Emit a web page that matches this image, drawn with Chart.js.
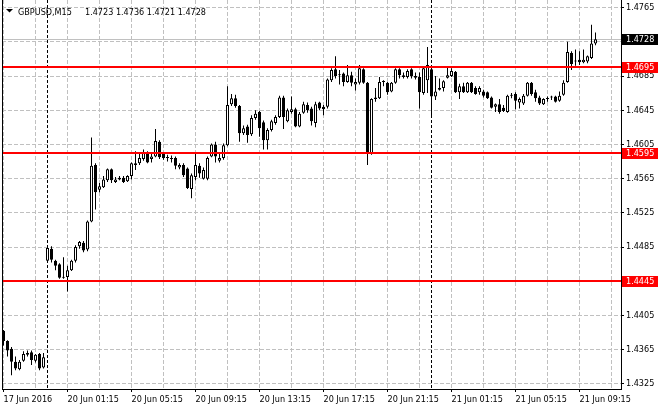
<!DOCTYPE html>
<html>
<head>
<meta charset="utf-8">
<script src="https://cdn.jsdelivr.net/npm/chart.js@4.4.1/dist/chart.umd.min.js"></script>
<style>
  html, body { margin: 0; padding: 0; background: #fff; }
</style>
</head>
<body>
<canvas id="chart" width="660" height="410"></canvas>
<script>
// GBPUSD M15 candles, one entry per bar (bar 0 = 17 Jun 21:15, last = 21 Jun 10:15)
const SYMBOL = "GBPUSD,M15";

const OPEN = [
  1.4387, 1.4375, 1.4366, 1.4351, 1.4342, 1.4352, 1.4359, 1.4362, 1.4352, 1.4360,
  1.4344, 1.4469, 1.4483, 1.4469, 1.4465, 1.4450, 1.4450, 1.4458, 1.4469, 1.4486,
  1.4490, 1.4482, 1.4515, 1.4581, 1.4552, 1.4555, 1.4563, 1.4576, 1.4561, 1.4566,
  1.4566, 1.4562, 1.4568, 1.4583, 1.4583, 1.4588, 1.4595, 1.4588, 1.4591, 1.4608,
  1.4594, 1.4590, 1.4589, 1.4589, 1.4578, 1.4581, 1.4577, 1.4553, 1.4567, 1.4580,
  1.4565, 1.4565, 1.4591, 1.4605, 1.4586, 1.4589, 1.4604, 1.4652, 1.4659, 1.4650,
  1.4618, 1.4626, 1.4617, 1.4636, 1.4643, 1.4631, 1.4610, 1.4622, 1.4630, 1.4637,
  1.4660, 1.4632, 1.4643, 1.4646, 1.4626, 1.4642, 1.4651, 1.4647, 1.4630, 1.4654,
  1.4649, 1.4649, 1.4680, 1.4693, 1.4687, 1.4688, 1.4678, 1.4686, 1.4675, 1.4677,
  1.4693, 1.4677, 1.4595, 1.4658, 1.4659, 1.4678, 1.4677, 1.4667, 1.4677, 1.4693,
  1.4686, 1.4684, 1.4693, 1.4685, 1.4684, 1.4665, 1.4680, 1.4693, 1.4661, 1.4671,
  1.4671, 1.4683, 1.4685, 1.4690, 1.4666, 1.4673, 1.4666, 1.4677, 1.4671, 1.4666,
  1.4667, 1.4666, 1.4660, 1.4649, 1.4652, 1.4648, 1.4643, 1.4663, 1.4664, 1.4654,
  1.4653, 1.4662, 1.4677, 1.4666, 1.4660, 1.4652, 1.4658, 1.4660, 1.4661, 1.4656,
  1.4663, 1.4678, 1.4712, 1.4703, 1.4704, 1.4701, 1.4702, 1.4706, 1.4723
];
const HIGH = [
  1.4388, 1.4376, 1.4368, 1.4357, 1.4353, 1.4363, 1.4364, 1.4364, 1.4360, 1.4361,
  1.4361, 1.4485, 1.4486, 1.4470, 1.4466, 1.4473, 1.4463, 1.4470, 1.4487, 1.4492,
  1.4492, 1.4516, 1.4613, 1.4583, 1.4560, 1.4568, 1.4577, 1.4577, 1.4567, 1.4568,
  1.4568, 1.4569, 1.4584, 1.4597, 1.4596, 1.4599, 1.4597, 1.4594, 1.4623, 1.4610,
  1.4596, 1.4593, 1.4592, 1.4591, 1.4583, 1.4583, 1.4578, 1.4571, 1.4594, 1.4583,
  1.4578, 1.4591, 1.4606, 1.4608, 1.4596, 1.4606, 1.4673, 1.4664, 1.4663, 1.4651,
  1.4627, 1.4628, 1.4639, 1.4645, 1.4644, 1.4633, 1.4624, 1.4634, 1.4639, 1.4662,
  1.4662, 1.4647, 1.4661, 1.4648, 1.4643, 1.4655, 1.4654, 1.4649, 1.4655, 1.4655,
  1.4651, 1.4682, 1.4694, 1.4708, 1.4692, 1.4689, 1.4698, 1.4690, 1.4682, 1.4698,
  1.4694, 1.4678, 1.4659, 1.4671, 1.4684, 1.4680, 1.4678, 1.4678, 1.4694, 1.4694,
  1.4689, 1.4693, 1.4694, 1.4689, 1.4689, 1.4696, 1.4719, 1.4697, 1.4685, 1.4682,
  1.4680, 1.4695, 1.4694, 1.4691, 1.4676, 1.4677, 1.4678, 1.4678, 1.4673, 1.4673,
  1.4669, 1.4667, 1.4661, 1.4653, 1.4658, 1.4651, 1.4663, 1.4665, 1.4666, 1.4660,
  1.4664, 1.4678, 1.4678, 1.4669, 1.4662, 1.4659, 1.4661, 1.4662, 1.4662, 1.4667,
  1.4680, 1.4725, 1.4714, 1.4716, 1.4714, 1.4716, 1.4709, 1.4745, 1.4736
];
const LOW = [
  1.4370, 1.4357, 1.4335, 1.4341, 1.4341, 1.4351, 1.4357, 1.4347, 1.4350, 1.4341,
  1.4343, 1.4468, 1.4467, 1.4458, 1.4448, 1.4448, 1.4433, 1.4457, 1.4467, 1.4483,
  1.4479, 1.4480, 1.4514, 1.4529, 1.4549, 1.4554, 1.4561, 1.4560, 1.4560, 1.4563,
  1.4560, 1.4561, 1.4564, 1.4575, 1.4581, 1.4586, 1.4583, 1.4584, 1.4590, 1.4588,
  1.4587, 1.4585, 1.4584, 1.4576, 1.4576, 1.4567, 1.4553, 1.4542, 1.4563, 1.4566,
  1.4564, 1.4563, 1.4590, 1.4584, 1.4584, 1.4587, 1.4603, 1.4650, 1.4648, 1.4608,
  1.4616, 1.4607, 1.4615, 1.4634, 1.4614, 1.4599, 1.4599, 1.4620, 1.4628, 1.4636,
  1.4623, 1.4631, 1.4641, 1.4625, 1.4625, 1.4641, 1.4642, 1.4627, 1.4625, 1.4645,
  1.4639, 1.4647, 1.4678, 1.4682, 1.4675, 1.4673, 1.4677, 1.4673, 1.4668, 1.4675,
  1.4676, 1.4581, 1.4593, 1.4655, 1.4658, 1.4673, 1.4663, 1.4666, 1.4676, 1.4682,
  1.4682, 1.4682, 1.4682, 1.4681, 1.4647, 1.4663, 1.4665, 1.4636, 1.4657, 1.4668,
  1.4667, 1.4682, 1.4684, 1.4665, 1.4658, 1.4665, 1.4665, 1.4665, 1.4663, 1.4663,
  1.4660, 1.4658, 1.4647, 1.4643, 1.4641, 1.4643, 1.4642, 1.4659, 1.4646, 1.4647,
  1.4651, 1.4661, 1.4662, 1.4655, 1.4651, 1.4651, 1.4655, 1.4657, 1.4654, 1.4655,
  1.4662, 1.4677, 1.4692, 1.4697, 1.4698, 1.4700, 1.4700, 1.4705, 1.4721
];
const CLOSE = [
  1.4375, 1.4364, 1.4351, 1.4343, 1.4351, 1.4360, 1.4361, 1.4353, 1.4359, 1.4343,
  1.4356, 1.4484, 1.4470, 1.4463, 1.4449, 1.4449, 1.4458, 1.4469, 1.4485, 1.4491,
  1.4481, 1.4515, 1.4580, 1.4549, 1.4556, 1.4564, 1.4576, 1.4563, 1.4564, 1.4564,
  1.4561, 1.4568, 1.4583, 1.4581, 1.4589, 1.4596, 1.4584, 1.4591, 1.4609, 1.4590,
  1.4589, 1.4589, 1.4588, 1.4580, 1.4581, 1.4569, 1.4554, 1.4569, 1.4581, 1.4571,
  1.4575, 1.4589, 1.4605, 1.4591, 1.4589, 1.4604, 1.4651, 1.4659, 1.4650, 1.4618,
  1.4624, 1.4616, 1.4636, 1.4641, 1.4624, 1.4610, 1.4622, 1.4632, 1.4637, 1.4660,
  1.4637, 1.4645, 1.4646, 1.4626, 1.4641, 1.4652, 1.4645, 1.4632, 1.4652, 1.4647,
  1.4646, 1.4681, 1.4692, 1.4685, 1.4686, 1.4678, 1.4686, 1.4677, 1.4678, 1.4694,
  1.4677, 1.4594, 1.4658, 1.4660, 1.4678, 1.4679, 1.4666, 1.4677, 1.4693, 1.4686,
  1.4684, 1.4691, 1.4685, 1.4683, 1.4666, 1.4694, 1.4698, 1.4661, 1.4667, 1.4669,
  1.4679, 1.4686, 1.4691, 1.4666, 1.4673, 1.4666, 1.4677, 1.4666, 1.4664, 1.4671,
  1.4662, 1.4659, 1.4648, 1.4652, 1.4643, 1.4644, 1.4662, 1.4662, 1.4656, 1.4658,
  1.4662, 1.4677, 1.4664, 1.4659, 1.4653, 1.4658, 1.4659, 1.4661, 1.4655, 1.4662,
  1.4677, 1.4713, 1.4699, 1.4702, 1.4701, 1.4704, 1.4708, 1.4723, 1.4728
];

// axis labels
const Y_TICKS = [1.4325, 1.4365, 1.4405, 1.4445, 1.4485, 1.4525,
                 1.4565, 1.4605, 1.4645, 1.4685, 1.4725, 1.4765];
const X_TICK_BARS = [0, 16, 32, 48, 64, 80, 96, 112, 128, 144];
const X_TICK_TEXT = ["17 Jun 2016", "20 Jun 01:15", "20 Jun 05:15", "20 Jun 09:15",
                     "20 Jun 13:15", "20 Jun 17:15", "20 Jun 21:15", "21 Jun 01:15",
                     "21 Jun 05:15", "21 Jun 09:15"];

// horizontal levels and day separators
const LEVELS = [1.4695, 1.4595, 1.4445];
const DAY_BREAKS = [11, 107];
const BID = CLOSE[CLOSE.length - 1];

const FAMILY = '"DejaVu Sans Condensed", "Liberation Sans", sans-serif';
const FONT = "9px " + FAMILY;

const bodies = OPEN.map((o, i) => ({ x: i, y: [o, CLOSE[i]] }));
const wicks = LOW.map((l, i) => ({ x: i, y: [l, HIGH[i]] }));
const bull = OPEN.map((o, i) => CLOSE[i] >= o);

const priceTag = (ctx, y, value, bg) => {
  const py = Math.round(y.getPixelForValue(value));
  ctx.fillStyle = bg;
  ctx.fillRect(622, py - 5, 36, 11);
  ctx.fillStyle = "#fff";
  ctx.textBaseline = "middle";
  ctx.textAlign = "left";
  ctx.fillText(value.toFixed(4), 626, py + 0.5);
};

const mtDecor = {
  id: "mtDecor",
  beforeDatasetsDraw(chart) {
    const { ctx, chartArea: a, scales: { x, y } } = chart;
    ctx.save();
    ctx.lineWidth = 1;
    ctx.strokeStyle = "#000";
    ctx.setLineDash([3, 2]);
    DAY_BREAKS.forEach((b) => {
      const px = Math.floor(x.getPixelForValue(b)) + 0.5;
      ctx.beginPath();
      ctx.moveTo(px, a.top);
      ctx.lineTo(px, a.bottom);
      ctx.stroke();
    });
    ctx.setLineDash([]);
    ctx.strokeStyle = "#c0c0c0";
    const by = Math.round(y.getPixelForValue(BID)) + 0.5;
    ctx.beginPath();
    ctx.moveTo(a.left, by);
    ctx.lineTo(a.right, by);
    ctx.stroke();
    ctx.restore();
  },
  afterDatasetsDraw(chart) {
    const { ctx, chartArea: a, scales: { y } } = chart;
    ctx.save();
    ctx.fillStyle = "#ff0000";
    LEVELS.forEach((lv) => {
      const py = Math.round(y.getPixelForValue(lv));
      ctx.fillRect(a.left, py - 1, a.right - a.left, 2);
    });
    // left frame line
    ctx.fillStyle = "#000";
    ctx.fillRect(a.left, a.top, 1, a.bottom - a.top);
    ctx.restore();
  },
  afterDraw(chart) {
    const { ctx, scales: { y } } = chart;
    ctx.save();
    ctx.font = FONT;
    // title
    ctx.fillStyle = "#000";
    ctx.beginPath();
    ctx.moveTo(6, 9);
    ctx.lineTo(13, 9);
    ctx.lineTo(9.5, 12.5);
    ctx.closePath();
    ctx.fill();
    ctx.textBaseline = "alphabetic";
    ctx.fillText(SYMBOL, 18, 14.5);
    const n = CLOSE.length - 1;
    const ohlc = [OPEN[n], HIGH[n], LOW[n], CLOSE[n]].map((v) => v.toFixed(4)).join(" ");
    ctx.fillText(ohlc, 85, 14.5);
    // price tags on the axis
    LEVELS.forEach((lv) => priceTag(ctx, y, lv, "#ff0000"));
    priceTag(ctx, y, BID, "#000");
    ctx.restore();
  },
};

const chart = new Chart(document.getElementById("chart").getContext("2d"), {
  type: "bar",
  data: {
    datasets: [
      {
        data: bodies,
        barThickness: 3,
        minBarLength: 1,
        borderWidth: 1,
        borderSkipped: false,
        inflateAmount: 0,
        borderColor: "#000",
        backgroundColor: bull.map((b) => (b ? "#fff" : "#000")),
        grouped: false,
      },
      {
        data: wicks,
        barThickness: 1,
        borderWidth: 0,
        inflateAmount: 0,
        backgroundColor: "#000",
        grouped: false,
      },
    ],
  },
  options: {
    responsive: false,
    animation: false,
    devicePixelRatio: 1,
    layout: { padding: { left: 2, top: 0, right: 0, bottom: 0 } },
    plugins: {
      legend: { display: false },
      tooltip: { enabled: false },
    },
    scales: {
      x: {
        type: "linear",
        min: -0.375,
        max: 154.375,
        bounds: "data",
        offset: false,
        grid: {
          offset: false,
          color: "#c0c0c0",
          tickLength: 3,
          tickColor: (c) => (c.tick && X_TICK_BARS.includes(c.tick.value) ? "#000" : "rgba(0,0,0,0)"),
        },
        border: { display: true, color: "#000", dash: [4, 2] },
        ticks: {
          autoSkip: false,
          maxRotation: 0,
          align: "start",
          padding: 2,
          color: "#000",
          font: { family: FAMILY, size: 9 },
          callback: (v) => {
            const k = X_TICK_BARS.indexOf(v);
            return k >= 0 ? X_TICK_TEXT[k] : "";
          },
        },
        afterBuildTicks: (s) => {
          const t = [];
          for (let v = 0; v <= 152; v += 8) t.push({ value: v });
          s.ticks = t;
        },
        afterFit: (s) => {
          s.height = 21;
          s.paddingLeft = 0;
          s.paddingRight = 0;
        },
      },
      y: {
        position: "right",
        min: 1.4319,
        max: 1.47739,
        bounds: "data",
        grid: { color: "#c0c0c0", tickLength: 3, tickColor: "#000" },
        border: { display: true, color: "#000", dash: [4, 2] },
        ticks: {
          autoSkip: false,
          padding: 2,
          color: "#000",
          font: { family: FAMILY, size: 9 },
          callback: (v) => v.toFixed(4),
        },
        afterBuildTicks: (s) => {
          s.ticks = Y_TICKS.map((v) => ({ value: v }));
        },
        afterFit: (s) => {
          s.width = 39;
          s.paddingTop = 0;
          s.paddingBottom = 0;
        },
      },
    },
  },
  plugins: [mtDecor],
});
</script>
</body>
</html>
